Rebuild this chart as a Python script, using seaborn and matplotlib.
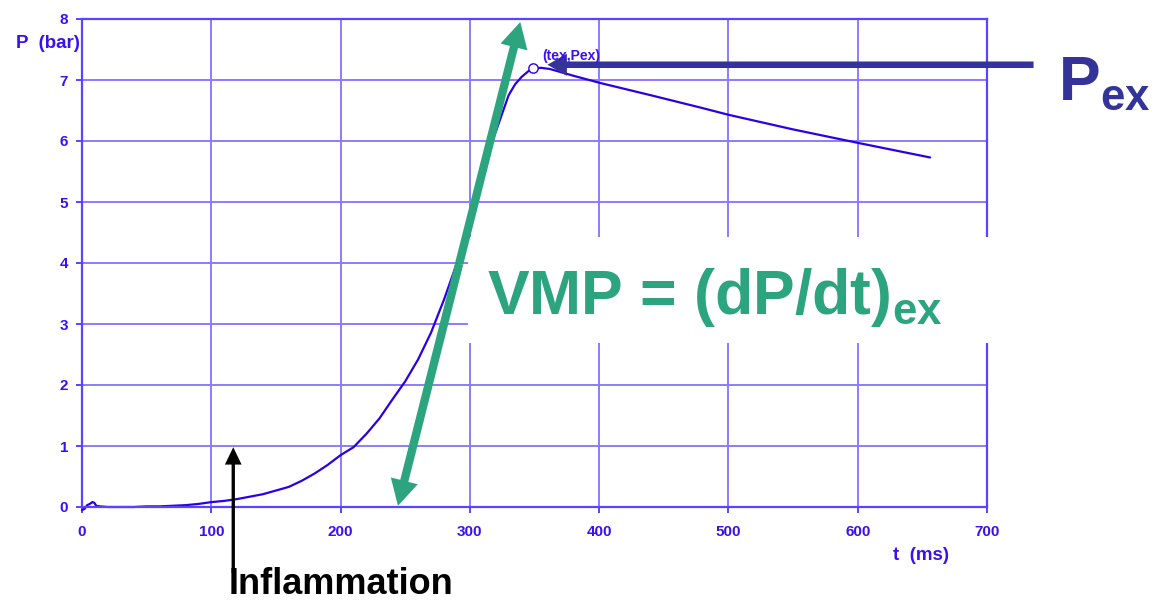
import matplotlib
matplotlib.use("Agg")
import matplotlib.pyplot as plt
import seaborn as sns
import pandas as pd
from matplotlib.patches import Rectangle, FancyArrowPatch

# ---- data ----
time_ms = [0, 2, 4, 6, 8, 9.5, 11, 14, 20, 30, 40, 50, 60, 70, 80, 90, 100, 110,
           120, 130, 140, 150, 160, 170, 180, 190, 200, 210, 220, 230, 240, 250,
           260, 270, 280, 290, 300, 305, 310, 315, 320, 325, 330, 335, 340, 345,
           349, 355, 362, 380, 401, 440, 478, 500, 550, 600, 656]
pressure_bar = [-0.05, -0.03, 0.03, 0.05, 0.08, 0.07, 0.02, 0.01, 0.0, 0.0, 0.0,
                0.01, 0.01, 0.02, 0.03, 0.05, 0.08, 0.10, 0.13, 0.17, 0.21, 0.27,
                0.33, 0.43, 0.55, 0.69, 0.85, 0.98, 1.2, 1.45, 1.76, 2.06, 2.42,
                2.86, 3.40, 4.0, 4.8, 5.2, 5.55, 5.88, 6.15, 6.45, 6.75, 6.93,
                7.05, 7.14, 7.19, 7.2, 7.18, 7.07, 6.95, 6.75, 6.55, 6.43, 6.19,
                5.97, 5.73]
peak_t = [349]
peak_p = [7.2]
x_ticks = [0, 100, 200, 300, 400, 500, 600, 700]
y_ticks = [0, 1, 2, 3, 4, 5, 6, 7, 8]

# annotation anchors (data units)
vmp_from = (244.4, 0.02)
vmp_to = (339, 7.95)
pex_tail = (736, 7.25)
pex_tip = (360, 7.25)
infl_tail = (117, -1.08)
infl_tip = (117, 0.98)

TXT = "#3a10f0"
GRID = "#8a7cff"
SPINE = "#5a44ff"
CURVE = "#2a00e6"
GREEN = "#2ca57e"
NAVY = "#33339a"

sns.set_style("white")
plt.rcParams["font.family"] = ["Liberation Sans", "DejaVu Sans"]
plt.rcParams["font.weight"] = "bold"
plt.rcParams["mathtext.fontset"] = "custom"
plt.rcParams["mathtext.rm"] = "Liberation Sans:bold"
plt.rcParams["mathtext.bf"] = "Liberation Sans:bold"

fig = plt.figure(figsize=(11.54, 6.01), dpi=100)
ax = fig.add_axes([82 / 1154, 1 - 507 / 601, 905 / 1154, 488 / 601])

df = pd.DataFrame({"t": time_ms, "P": pressure_bar})
sns.lineplot(data=df, x="t", y="P", ax=ax, color=CURVE, linewidth=1.6, zorder=2)
ax.lines[-1].set_clip_on(False)
sns.scatterplot(x=peak_t, y=peak_p, ax=ax, s=45, facecolor="white",
                edgecolor=CURVE, linewidth=1.0, zorder=4)

ax.set_xlim(0, 700)
ax.set_ylim(0, 8)
ax.set_xticks(x_ticks)
ax.set_yticks(y_ticks)
ax.set_xlabel("")
ax.set_ylabel("")
ax.grid(True, color=GRID, linewidth=1.4)
for s in ax.spines.values():
    s.set_color(SPINE)
    s.set_linewidth(1.6)
ax.tick_params(axis="both", colors=SPINE, length=4, width=1.4, direction="out",
               labelsize=11, labelcolor=TXT)
ax.tick_params(axis="y", pad=6, left=True)
ax.tick_params(axis="x", pad=9, bottom=True)
for lab in ax.get_xticklabels() + ax.get_yticklabels():
    lab.set_fontweight("bold")

fig.text(16 / 1154, 1 - 44 / 601, "P  (bar)", color=TXT, fontsize=13.5,
         fontweight="bold", ha="left", va="center")
fig.text(893 / 1154, 1 - 556 / 601, "t  (ms)", color=TXT, fontsize=13.5,
         fontweight="bold", ha="left", va="center")

# white box behind the VMP label
ax.add_patch(Rectangle((0.4265, 0.336), 0.585, 0.217, transform=ax.transAxes,
                       facecolor="white", edgecolor="none", zorder=3, clip_on=False))

ax.text(313, 3.16, r"VMP = (dP/dt)$_{\mathregular{ex}}$", color=GREEN,
        fontsize=45, fontweight="bold", ha="left", va="baseline", zorder=6)
ax.text(755, 6.67, r"P$_{\mathregular{ex}}$", color=NAVY, fontsize=45,
        fontweight="bold", ha="left", va="baseline", zorder=6, clip_on=False)
ax.text(356, 7.39, "(tex,Pex)", color=TXT, fontsize=10, fontweight="bold",
        ha="left", va="center", zorder=6)


def filled_arrow(start, end, head_length, head_width, tail_width, color):
    arr = FancyArrowPatch(start, end, transform=ax.transData,
                          arrowstyle=f"simple,head_length={head_length},"
                                     f"head_width={head_width},tail_width={tail_width}",
                          mutation_scale=1, color=color, linewidth=0,
                          shrinkA=0, shrinkB=0, zorder=5, clip_on=False)
    ax.add_patch(arr)


# green double arrow: two filled halves from the midpoint
mid = ((vmp_from[0] + vmp_to[0]) / 2, (vmp_from[1] + vmp_to[1]) / 2)
filled_arrow(mid, vmp_to, 18.5, 20, 6, GREEN)
filled_arrow(mid, vmp_from, 18.5, 20, 6, GREEN)
# navy arrow to Pex
filled_arrow(pex_tail, pex_tip, 14, 16, 4.7, NAVY)
# black arrow for inflammation
filled_arrow(infl_tail, infl_tip, 12.5, 12, 2.4, "black")

fig.text(229 / 1154, 1 - 594 / 601, "Inflammation", color="black", fontsize=26,
         fontweight="bold", ha="left", va="baseline")

fig.savefig("out.png", dpi=100)
